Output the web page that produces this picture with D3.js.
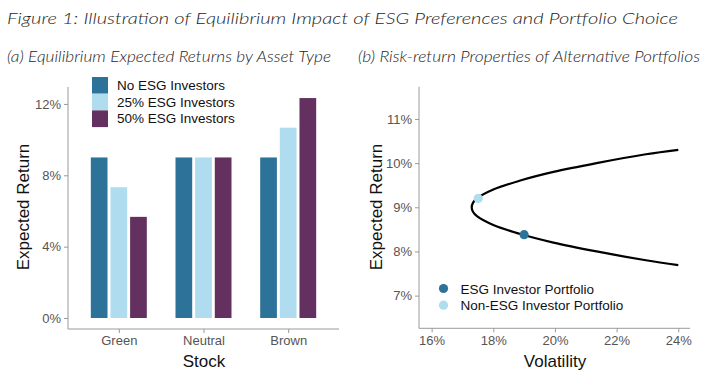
<!DOCTYPE html>
<html>
<head>
<meta charset="utf-8">
<script src="https://cdn.jsdelivr.net/npm/d3@7"></script>
<style>
  body { margin: 0; background: #fff; }
  svg { display: block; }
  text { font-family: Arial, "Liberation Sans", sans-serif; }
  .head { font-family: Lato, "Open Sans", sans-serif; font-style: italic; font-weight: 300; fill: #1e1e1e; }
  .axis path, .axis line { stroke: #9a9a9a; }
  .axis text { fill: #555; font-size: 13px; }
</style>
</head>
<body>
<svg width="720" height="386"></svg>
<script>
// bar chart data
const stocks = ['Green', 'Neutral', 'Brown'];
const scenarios = ['No ESG Investors', '25% ESG Investors', '50% ESG Investors'];
const noEsg = [9.0, 9.0, 9.0];
const esg25 = [7.33, 9.0, 10.67];
const esg50 = [5.67, 9.0, 12.33];
const barTicks = [0, 4, 8, 12];

// frontier data
const frontierVol = [24.0, 22.95, 21.35, 19.95, 18.85, 18.0, 17.47, 17.34, 17.3, 17.34, 17.47, 18.0, 18.85, 19.95, 21.35, 22.95, 24.0];
const frontierRet = [7.69, 7.8, 8.0, 8.2, 8.4, 8.6, 8.8, 8.9, 9.0, 9.1, 9.2, 9.4, 9.6, 9.8, 10.0, 10.2, 10.3];
const portfolios = ['ESG Investor Portfolio', 'Non-ESG Investor Portfolio'];
const portVol = [19.0, 17.51];
const portRet = [8.38, 9.2];
const volTicks = [16, 18, 20, 22, 24];
const retTicks = [7, 8, 9, 10, 11];

const colors = ['#2d7399', '#afdcee', '#64305f'];

const svg = d3.select('svg');

// headings
svg.append('text').attr('class', 'head')
    .attr('x', 7).attr('y', 23.5).attr('font-size', 16.5)
    .attr('textLength', 671).attr('lengthAdjust', 'spacingAndGlyphs')
    .text('Figure 1: Illustration of Equilibrium Impact of ESG Preferences and Portfolio Choice');
svg.append('text').attr('class', 'head')
    .attr('x', 7).attr('y', 62).attr('font-size', 15)
    .attr('textLength', 324).attr('lengthAdjust', 'spacingAndGlyphs')
    .text('(a) Equilibrium Expected Returns by Asset Type');
svg.append('text').attr('class', 'head')
    .attr('x', 358).attr('y', 62).attr('font-size', 15)
    .attr('textLength', 342).attr('lengthAdjust', 'spacingAndGlyphs')
    .text('(b) Risk-return Properties of Alternative Portfolios');

// ---- panel (a): grouped bars
const left = { x0: 68, x1: 339, y0: 329, y1: 87 };
const xCat = d3.scalePoint().domain(stocks).range([left.x0, left.x1]).padding(0.6);
const xSub = d3.scaleBand().domain(scenarios).range([-28, 28]).paddingInner(0.15);
const yBar = d3.scaleLinear().domain([-0.617, 12.95]).range([left.y0, left.y1]);

const series = [noEsg, esg25, esg50];
const barData = [];
stocks.forEach((s, i) => scenarios.forEach((sc, j) => barData.push({ stock: s, scen: sc, j, v: series[j][i] })));

const gA = svg.append('g');
gA.selectAll('rect.bar').data(barData).enter().append('rect')
    .attr('class', 'bar')
    .attr('x', d => xCat(d.stock) + xSub(d.scen))
    .attr('width', xSub.bandwidth())
    .attr('y', d => yBar(d.v))
    .attr('height', d => yBar(0) - yBar(d.v))
    .attr('fill', d => colors[d.j]);

gA.append('g').attr('class', 'axis')
    .attr('transform', `translate(${left.x0},0)`)
    .call(d3.axisLeft(yBar).tickValues(barTicks).tickSize(4).tickPadding(3).tickFormat(d => d + '%'))
    .call(g => g.select('.domain').attr('d', `M0,${left.y0}V${left.y1}`));
gA.append('g').attr('class', 'axis')
    .attr('transform', `translate(0,${left.y0})`)
    .call(d3.axisBottom(xCat).tickSize(4).tickPadding(3))
    .call(g => g.select('.domain').attr('d', `M${left.x0},0H${left.x1}`));

gA.append('text').attr('transform', 'translate(29,207) rotate(-90)')
    .attr('text-anchor', 'middle').attr('font-size', 17).attr('fill', '#111')
    .text('Expected Return');
gA.append('text').attr('x', 204).attr('y', 367)
    .attr('text-anchor', 'middle').attr('font-size', 17).attr('fill', '#111')
    .text('Stock');

const legA = gA.selectAll('g.leg').data(scenarios).enter().append('g')
    .attr('transform', (d, i) => `translate(92,${77 + i * 16.7})`);
legA.append('rect').attr('width', 16).attr('height', 16.7).attr('fill', (d, i) => colors[i]);
legA.append('text').attr('x', 25).attr('y', 13).attr('font-size', 13.5).attr('fill', '#111').text(d => d);

// ---- panel (b): frontier
const right = { x0: 419, x1: 690, y0: 328.3, y1: 86.7 };
const xVol = d3.scaleLinear().domain([15.59, 24.38]).range([right.x0, right.x1]);
const yRet = d3.scaleLinear().domain([6.26, 11.73]).range([right.y0, right.y1]);

const gB = svg.append('g');
const frontier = frontierVol.map((v, i) => [v, frontierRet[i]]);
gB.append('path').datum(frontier)
    .attr('fill', 'none').attr('stroke', '#000').attr('stroke-width', 2.2)
    .attr('d', d3.line().x(d => xVol(d[0])).y(d => yRet(d[1])).curve(d3.curveCatmullRom));

const pts = portfolios.map((p, i) => ({ p, v: portVol[i], r: portRet[i], c: colors[i] }));
gB.selectAll('circle.pt').data(pts).enter().append('circle')
    .attr('class', 'pt')
    .attr('cx', d => xVol(d.v)).attr('cy', d => yRet(d.r)).attr('r', 4.6)
    .attr('fill', d => d.c);

gB.append('g').attr('class', 'axis')
    .attr('transform', `translate(${right.x0},0)`)
    .call(d3.axisLeft(yRet).tickValues(retTicks).tickSize(4).tickPadding(3).tickFormat(d => d + '%'))
    .call(g => g.select('.domain').attr('d', `M0,${right.y0}V${right.y1}`));
gB.append('g').attr('class', 'axis')
    .attr('transform', `translate(0,${right.y0})`)
    .call(d3.axisBottom(xVol).tickValues(volTicks).tickSize(4).tickPadding(3).tickFormat(d => d + '%'))
    .call(g => g.select('.domain').attr('d', `M${right.x0},0H${right.x1}`));

gB.append('text').attr('transform', 'translate(382,207) rotate(-90)')
    .attr('text-anchor', 'middle').attr('font-size', 17).attr('fill', '#111')
    .text('Expected Return');
gB.append('text').attr('x', 555).attr('y', 367)
    .attr('text-anchor', 'middle').attr('font-size', 17).attr('fill', '#111')
    .text('Volatility');

const legB = gB.selectAll('g.leg').data(pts).enter().append('g')
    .attr('transform', (d, i) => `translate(443.5,${288.5 + i * 16.7})`);
legB.append('circle').attr('r', 4.6).attr('fill', d => d.c);
legB.append('text').attr('x', 17).attr('y', 5).attr('font-size', 13.5).attr('fill', '#111').text(d => d.p);
</script>
</body>
</html>
